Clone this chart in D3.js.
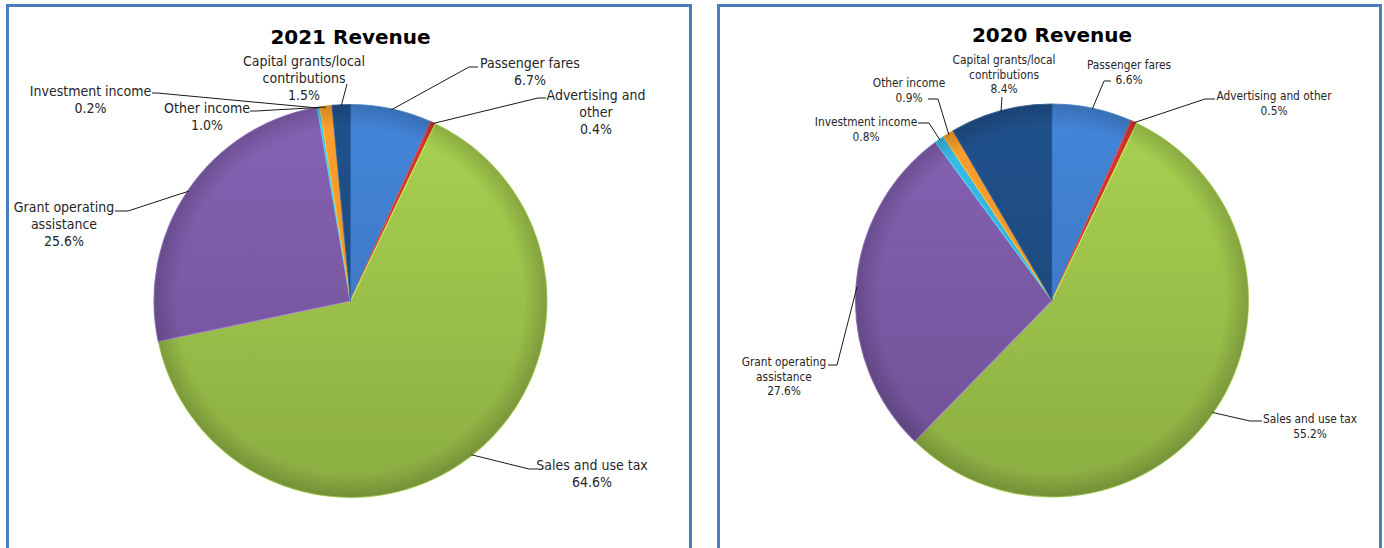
<!DOCTYPE html>
<html>
<head>
<meta charset="utf-8">
<script src="https://cdn.jsdelivr.net/npm/d3@7"></script>
<style>
  body { margin: 0; background: #fff; }
  svg { display: block; }
</style>
</head>
<body>
<div id="chart"></div>
<script>
// revenue split, in the order the slices run clockwise from 12 o'clock
const categories = [
  "Passenger fares",
  "Advertising and other",
  "Sales and use tax",
  "Grant operating assistance",
  "Investment income",
  "Other income",
  "Capital grants/local contributions"
];
const values2021 = [6.7, 0.4, 64.6, 25.6, 0.2, 1.0, 1.5];
const values2020 = [6.6, 0.5, 55.2, 27.6, 0.8, 0.9, 8.4];
const sliceColors = ["#3f7dcb", "#c4332c", "#9dc44b", "#7d5ba8", "#36b1dc", "#f5962a", "#1e4b82"];

// label layout per panel (text lines, anchor, leader bend)
const layout2021 = {
  title: "2021 Revenue", titleY: 44,
  panel: {x: 7.5, y: 5.5, w: 683}, cx: 350.5, cy: 301, r: 196.5,
  fontSize: 14, lineH: 16.8,
  labels: [
    {lines: ["Passenger fares"], x: 530, y: 68, bend: [[469, 67], [478, 67]]},
    {lines: ["Advertising and", "other"], x: 596, y: 100, bend: [[538, 98], [546, 98]]},
    {lines: ["Sales and use tax"], x: 592, y: 470, bend: [[529, 469], [537, 469]]},
    {lines: ["Grant operating", "assistance"], x: 64, y: 212, bend: [[128, 211], [115, 211]]},
    {lines: ["Investment income"], x: 90.5, y: 96, bend: [[157, 93], [152, 93]]},
    {lines: ["Other income"], x: 207, y: 113, bend: [[256, 111], [250, 111]]},
    {lines: ["Capital grants/local", "contributions"], x: 304, y: 66, bend: [[347, 84]]}
  ]
};
const layout2020 = {
  title: "2020 Revenue", titleY: 42,
  panel: {x: 718.5, y: 5.5, w: 662}, cx: 1052, cy: 300.5, r: 196.5,
  fontSize: 11.8, lineH: 14.6,
  labels: [
    {lines: ["Passenger fares"], x: 1129, y: 69, bend: [[1104, 81], [1111, 81]]},
    {lines: ["Advertising and other"], x: 1274, y: 100, bend: [[1205, 99], [1215, 99]]},
    {lines: ["Sales and use tax"], x: 1310, y: 423, bend: [[1250, 421], [1262, 421]]},
    {lines: ["Grant operating", "assistance"], x: 784, y: 366, bend: [[837, 365], [828, 365]]},
    {lines: ["Investment income"], x: 866, y: 126, bend: [[929, 123], [918, 123]]},
    {lines: ["Other income"], x: 909, y: 87, bend: [[938, 99], [928, 99]]},
    {lines: ["Capital grants/local", "contributions"], x: 1004, y: 64, bend: [[1002, 97]]}
  ]
};

const width = 1384, height = 548;
const fmt = d3.format(".1f");

const svg = d3.select("#chart")
  .append("svg")
  .attr("width", width)
  .attr("height", height)
  .attr("viewBox", `0 0 ${width} ${height}`);

const defs = svg.append("defs");

function drawPie(values, cfg, idx) {
  const g = svg.append("g");

  // panel frame, open at the bottom of the page
  g.append("rect")
    .attr("x", cfg.panel.x)
    .attr("y", cfg.panel.y)
    .attr("width", cfg.panel.w)
    .attr("height", height + 20)
    .attr("fill", "#fff")
    .attr("stroke", "#4a7dbf")
    .attr("stroke-width", 3);

  g.append("text")
    .attr("x", cfg.cx)
    .attr("y", cfg.titleY)
    .attr("text-anchor", "middle")
    .attr("font-family", "DejaVu Sans, Verdana, sans-serif")
    .attr("font-weight", "bold")
    .attr("font-size", 20)
    .attr("fill", "#000")
    .text(cfg.title);

  const pie = d3.pie().sort(null).value(d => d)(values);
  const arc = d3.arc().innerRadius(0).outerRadius(cfg.r);

  // top-light / bottom-dark fill per slice
  sliceColors.forEach((c, i) => {
    const grad = defs.append("linearGradient")
      .attr("id", `g${idx}_${i}`)
      .attr("gradientUnits", "userSpaceOnUse")
      .attr("x1", 0).attr("y1", -cfg.r)
      .attr("x2", 0).attr("y2", cfg.r);
    grad.append("stop").attr("offset", 0).attr("stop-color", d3.color(c).brighter(0.2));
    grad.append("stop").attr("offset", 1).attr("stop-color", d3.color(c).darker(0.35));
  });

  const rim = defs.append("radialGradient")
    .attr("id", `rim${idx}`)
    .attr("gradientUnits", "userSpaceOnUse")
    .attr("cx", 0).attr("cy", 0).attr("r", cfg.r);
  rim.append("stop").attr("offset", 0.88).attr("stop-color", "#000").attr("stop-opacity", 0);
  rim.append("stop").attr("offset", 1).attr("stop-color", "#000").attr("stop-opacity", 0.17);

  const pg = g.append("g").attr("transform", `translate(${cfg.cx},${cfg.cy})`);

  pg.selectAll("path.slice")
    .data(pie)
    .join("path")
    .attr("class", "slice")
    .attr("d", arc)
    .attr("fill", (d, i) => `url(#g${idx}_${i})`)
    .attr("stroke", (d, i) => d3.color(sliceColors[i]).brighter(0.7))
    .attr("stroke-opacity", 0.8)
    .attr("stroke-width", 1.2)
    .attr("stroke-linejoin", "round");

  pg.append("circle")
    .attr("r", cfg.r)
    .attr("fill", `url(#rim${idx})`)
    .attr("stroke", "#6b6b6b")
    .attr("stroke-opacity", 0.35)
    .attr("stroke-width", 0.8);

  // leader lines from the slice edge to the label
  const line = d3.line();
  pie.forEach((d, i) => {
    const lab = cfg.labels[i];
    const a = (d.startAngle + d.endAngle) / 2;
    const edge = [cfg.cx + Math.sin(a) * (cfg.r - 1), cfg.cy - Math.cos(a) * (cfg.r - 1)];
    g.append("path")
      .attr("d", line([edge, ...lab.bend]))
      .attr("fill", "none")
      .attr("stroke", "#1a1a1a")
      .attr("stroke-width", 1);

    const t = g.append("text")
      .attr("text-anchor", "middle")
      .attr("font-family", "DejaVu Sans Condensed, DejaVu Sans, sans-serif")
      .attr("font-size", cfg.fontSize)
      .attr("fill", "#262626");
    const lines = lab.lines.concat([fmt(values[i]) + "%"]);
    lines.forEach((s, k) => {
      t.append("tspan")
        .attr("x", lab.x)
        .attr("y", lab.y + k * cfg.lineH)
        .text(s);
    });
  });
}

drawPie(values2021, layout2021, 0);
drawPie(values2020, layout2020, 1);
</script>
</body>
</html>
